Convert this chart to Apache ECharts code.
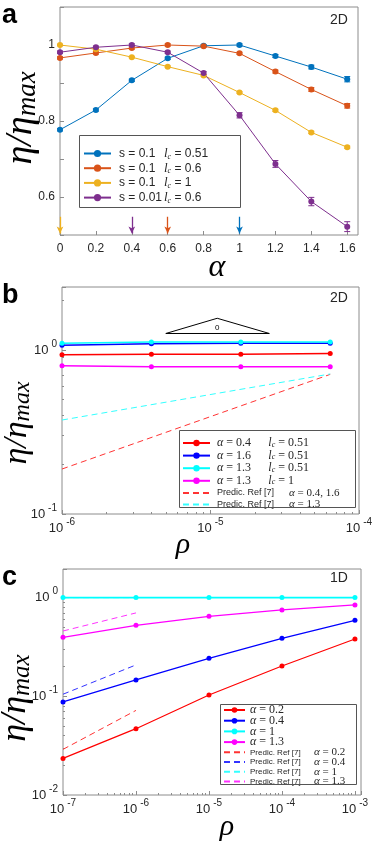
<!DOCTYPE html>
<html>
<head>
<meta charset="utf-8">
<script src="https://cdn.jsdelivr.net/npm/echarts@6/dist/echarts.min.js"></script>
<style>
  html, body { margin: 0; padding: 0; background: #fff; }
  #main { width: 381px; height: 868px; }
</style>
</head>
<body>
<div id="main"></div>
<script>
// ---- panel a: eta/eta_max vs alpha (2D) ----
const alphaA = [0, 0.2, 0.4, 0.6, 0.8, 1.0, 1.2, 1.4, 1.6];
const etaBlueA = [0.777, 0.829, 0.907, 0.965, 0.998, 1.0, 0.971, 0.942, 0.910];
const etaOrangeA = [0.966, 0.979, 0.992, 1.0, 0.997, 0.978, 0.930, 0.883, 0.840];
const etaYellowA = [1.0, 0.989, 0.968, 0.943, 0.920, 0.875, 0.828, 0.770, 0.731];
const etaPurpleA = [0.981, 0.994, 1.0, 0.981, 0.926, 0.815, 0.687, 0.588, 0.522];
const errBlueA = [0.003, 0.003, 0.003, 0.003, 0.003, 0.003, 0.004, 0.005, 0.007];
const errOrangeA = [0.003, 0.003, 0.003, 0.003, 0.003, 0.003, 0.004, 0.005, 0.006];
const errYellowA = [0.002, 0.002, 0.002, 0.002, 0.002, 0.002, 0.003, 0.003, 0.003];
const errPurpleA = [0.003, 0.003, 0.003, 0.003, 0.004, 0.007, 0.009, 0.011, 0.013];
const bestAlphaA = [1.0, 0.6, 0, 0.4]; // arrows: blue, orange, yellow, purple
const labelsA = [['s = 0.1', '0.51'], ['s = 0.1', '0.6'], ['s = 0.1', '1'], ['s = 0.01', '0.6']];

// ---- panel b: eta/eta_max vs rho (2D) ----
const rhoB = [1e-6, 4e-6, 1.6e-5, 6.4e-5];
const etaRedB = [0.935, 0.94, 0.94, 0.95];
const etaBlueB = [1.07, 1.09, 1.10, 1.10];
const etaCyanB = [1.10, 1.12, 1.12, 1.12];
const etaMagentaB = [0.80, 0.79, 0.79, 0.79];
const predRhoB = [1e-6, 6.4e-5];
const predRedB = [0.188, 0.71];
const predCyanB = [0.374, 0.714];
const triRhoB = [5e-6, 1.11e-5, 2.49e-5, 5e-6];
const triEtaB = [1.26, 1.56, 1.26, 1.26];

// ---- panel c: eta/eta_max vs rho (1D) ----
const rhoC = [1e-7, 1e-6, 1e-5, 1e-4, 1e-3];
const etaRedC = [0.0235, 0.047, 0.103, 0.203, 0.381];
const etaBlueC = [0.0877, 0.1465, 0.2425, 0.387, 0.589];
const etaCyanC = [1, 1, 1, 1, 1];
const etaMagentaC = [0.396, 0.524, 0.646, 0.750, 0.843];
const predRhoC = [1e-7, 1e-6];
const predRedC = [0.029, 0.072];
const predBlueC = [0.105, 0.208];
const predCyanC = [1.0, 1.0];
const predMagentaC = [0.459, 0.70];

const SANS = 'Liberation Sans';
const SERIF = 'Liberation Serif';
const FRAME = '#8c8c8c';
const TXT = '#262626';
const M_BLUE = '#0072BD', M_ORANGE = '#D95319', M_YELLOW = '#EDB120', M_PURPLE = '#7E2F8E';

const pairs = (xs, ys) => xs.map((x, i) => [x, ys[i]]);

const chart = echarts.init(document.getElementById('main'));

function expLabel(v) {
  const e = Math.round(Math.log10(v));
  if (Math.abs(Math.log10(v) - e) > 0.01) return '';
  return '{b|10}{s|' + e + '}';
}
const expRich = {
  b: { fontFamily: SANS, fontSize: 13, color: TXT, lineHeight: 22, verticalAlign: 'middle' },
  s: { fontFamily: SANS, fontSize: 10, color: TXT, lineHeight: 10, verticalAlign: 'top', padding: [0, 0, 0, 3] }
};
const tickIn = { show: true, inside: true, length: 4, lineStyle: { color: FRAME, width: 1 } };
const minorIn = { show: true, length: 2, splitNumber: 9, lineStyle: { color: FRAME, width: 1 } };

function lineA(name, ys, color, arrowX) {
  return {
    name, type: 'line', xAxisIndex: 0, yAxisIndex: 0,
    data: pairs(alphaA, ys), symbol: 'circle', symbolSize: 6,
    itemStyle: { color }, lineStyle: { color, width: 1 }, z: 3,
    markLine: {
      silent: true, symbol: ['none', 'arrow'], symbolSize: [5, 7],
      lineStyle: { color, width: 1.3, type: 'solid' }, label: { show: false },
      data: [[{ coord: [arrowX, 0.548] }, { coord: [arrowX, 0.504] }]]
    }
  };
}
function errA(ys, errs, color) {
  return {
    type: 'custom', xAxisIndex: 0, yAxisIndex: 0, silent: true, z: 2,
    data: alphaA.map((x, i) => [x, ys[i] - errs[i], ys[i] + errs[i]]),
    renderItem: (params, api) => {
      const lo = api.coord([api.value(0), api.value(1)]);
      const hi = api.coord([api.value(0), api.value(2)]);
      const w = 3;
      return {
        type: 'group', children: [
          { type: 'line', shape: { x1: lo[0], y1: lo[1], x2: hi[0], y2: hi[1] }, style: { stroke: color, lineWidth: 1 } },
          { type: 'line', shape: { x1: lo[0] - w, y1: lo[1], x2: lo[0] + w, y2: lo[1] }, style: { stroke: color, lineWidth: 1 } },
          { type: 'line', shape: { x1: hi[0] - w, y1: hi[1], x2: hi[0] + w, y2: hi[1] }, style: { stroke: color, lineWidth: 1 } }
        ]
      };
    }
  };
}
function solid(name, idx, xs, ys, color, width) {
  return {
    name, type: 'line', xAxisIndex: idx, yAxisIndex: idx, data: pairs(xs, ys),
    symbol: 'circle', symbolSize: 5, itemStyle: { color }, lineStyle: { color, width }, z: 3
  };
}
function dashed(name, idx, xs, ys, color) {
  return {
    name, type: 'line', xAxisIndex: idx, yAxisIndex: idx, data: pairs(xs, ys),
    symbol: 'none', itemStyle: { color }, lineStyle: { color, width: 1, type: [6, 4] }, z: 2
  };
}
// legend entry for a dashed series: hide the marker the line icon would add
const noMark = name => ({ name, itemStyle: { color: 'rgba(0,0,0,0)', borderWidth: 0 } });

// rotated y axis title
function etaTitle(x, y, big, small) {
  return {
    type: 'text', x, y, rotation: Math.PI / 2,
    style: {
      text: '{e|η/η}{m|max}', align: 'center', verticalAlign: 'middle',
      rich: {
        e: { fontFamily: SERIF, fontStyle: 'italic', fontSize: big, fill: '#000', lineHeight: big + 2 },
        m: { fontFamily: SERIF, fontStyle: 'italic', fontSize: small, fill: '#000', lineHeight: small + 3, verticalAlign: 'bottom' }
      }
    }
  };
}

const namesA = ['s = 0.1, lc = 0.51', 's = 0.1, lc = 0.6', 's = 0.1, lc = 1', 's = 0.01, lc = 0.6'];
const legendTextA = {};
namesA.forEach((n, i) => { legendTextA[n] = '{g|}{s|' + labelsA[i][0] + '}{l|l}{c|c}{e| = ' + labelsA[i][1] + '}'; });

const legendTextB = {
  b1: '{a|α}{n| = 0.4}{l|l}{c|c}{n| = 0.51}',
  b2: '{a|α}{n| = 1.6}{l|l}{c|c}{n| = 0.51}',
  b3: '{a|α}{n| = 1.3}{l|l}{c|c}{n| = 0.51}',
  b4: '{a|α}{n| = 1.3}{l|l}{c|c}{n| = 1}',
  b5: '{p|Predic. Ref [7]}{q|α}{r| = 0.4, 1.6}',
  b6: '{p|Predic. Ref [7]}{q|α}{r| = 1.3}'
};
const legendTextC = {
  c1: '{a|α}{n| = 0.2}', c2: '{a|α}{n| = 0.4}', c3: '{a|α}{n| = 1}', c4: '{a|α}{n| = 1.3}',
  c5: '{p|Predic. Ref [7]}{q|α}{r| = 0.2}', c6: '{p|Predic. Ref [7]}{q|α}{r| = 0.4}',
  c7: '{p|Predic. Ref [7]}{q|α}{r| = 1}', c8: '{p|Predic. Ref [7]}{q|α}{r| = 1.3}'
};

const option = {
  backgroundColor: '#fff',
  animation: false,
  grid: [
    { left: 60, top: 7, width: 298, height: 228, show: true, borderColor: FRAME, borderWidth: 1 },
    { left: 62, top: 287, width: 297, height: 227, show: true, borderColor: FRAME, borderWidth: 1 },
    { left: 63, top: 569, width: 298, height: 226, show: true, borderColor: FRAME, borderWidth: 1 }
  ],
  xAxis: [
    {
      gridIndex: 0, type: 'value', min: 0, max: 1.66, interval: 0.2,
      axisLine: { show: false }, axisTick: tickIn, splitLine: { show: false },
      axisLabel: {
        showMaxLabel: false, margin: 8, fontFamily: SANS, fontSize: 12, color: TXT,
        formatter: v => (v > 1.61 ? '' : String(+v.toFixed(1)))
      }
    },
    {
      gridIndex: 1, type: 'log', logBase: 10, min: 1e-6, max: 1e-4,
      axisLine: { show: false }, axisTick: tickIn, minorTick: minorIn, splitLine: { show: false },
      axisLabel: { margin: 3, formatter: expLabel, rich: expRich }
    },
    {
      gridIndex: 2, type: 'log', logBase: 10, min: 1e-7, max: 1.21e-3,
      axisLine: { show: false }, axisTick: tickIn, minorTick: minorIn, splitLine: { show: false },
      axisLabel: { margin: 3, showMaxLabel: false, formatter: expLabel, rich: expRich }
    }
  ],
  yAxis: [
    {
      gridIndex: 0, type: 'value', min: 0.5, max: 1.1, interval: 0.1,
      axisLine: { show: false }, axisTick: tickIn, splitLine: { show: false },
      axisLabel: {
        margin: 5, fontFamily: SANS, fontSize: 12, color: TXT,
        formatter: v => { const t = Math.round(v * 10); return (t === 6 || t === 8 || t === 10) ? String(+v.toFixed(1)) : ''; }
      }
    },
    {
      gridIndex: 1, type: 'log', logBase: 10, min: 0.1, max: 2.42,
      axisLine: { show: false }, axisTick: tickIn, minorTick: minorIn, splitLine: { show: false },
      axisLabel: { margin: 5, showMaxLabel: false, formatter: expLabel, rich: expRich }
    },
    {
      gridIndex: 2, type: 'log', logBase: 10, min: 0.01, max: 1.95,
      axisLine: { show: false }, axisTick: tickIn, minorTick: minorIn, splitLine: { show: false },
      axisLabel: { margin: 5, showMaxLabel: false, formatter: expLabel, rich: expRich }
    }
  ],
  legend: [
    {
      data: namesA, orient: 'vertical', left: 83, top: 147, itemWidth: 27, itemHeight: 9, itemGap: 1.2,
      padding: 0, selectedMode: false,
      formatter: n => legendTextA[n],
      textStyle: {
        rich: {
          g: { width: 3, lineHeight: 14 },
          s: { fontFamily: SANS, fontSize: 12, color: TXT, width: 45, lineHeight: 14 },
          l: { fontFamily: SERIF, fontStyle: 'italic', fontSize: 13, color: TXT, lineHeight: 14 },
          c: { fontFamily: SERIF, fontStyle: 'italic', fontSize: 8, color: TXT, lineHeight: 8, verticalAlign: 'bottom' },
          e: { fontFamily: SANS, fontSize: 12, color: TXT, lineHeight: 14 }
        }
      }
    },
    {
      data: ['b1', 'b2', 'b3', 'b4', noMark('b5'), noMark('b6')],
      orient: 'vertical', left: 182, top: 437, itemWidth: 27, itemHeight: 8, itemGap: 0.6,
      padding: 0, selectedMode: false,
      formatter: n => legendTextB[n],
      textStyle: {
        rich: {
          a: { fontFamily: SERIF, fontStyle: 'italic', fontSize: 12, color: TXT, lineHeight: 11, padding: [0, 0, 0, 2] },
          n: { fontFamily: SERIF, fontSize: 12, color: TXT, lineHeight: 11, width: 45 },
          l: { fontFamily: SERIF, fontStyle: 'italic', fontSize: 12, color: TXT, lineHeight: 11 },
          c: { fontFamily: SERIF, fontStyle: 'italic', fontSize: 8, color: TXT, lineHeight: 7, verticalAlign: 'bottom' },
          p: { fontFamily: SANS, fontSize: 9, color: TXT, lineHeight: 11, width: 72, padding: [0, 0, 0, 2] },
          q: { fontFamily: SERIF, fontStyle: 'italic', fontSize: 11, color: TXT, lineHeight: 11 },
          r: { fontFamily: SERIF, fontSize: 11, color: TXT, lineHeight: 11 }
        }
      }
    },
    {
      data: ['c1', 'c2', 'c3', 'c4', noMark('c5'), noMark('c6'), noMark('c7'), noMark('c8')],
      orient: 'vertical', left: 223, top: 704, itemWidth: 21, itemHeight: 7, itemGap: -1.3,
      padding: 0, selectedMode: false,
      formatter: n => legendTextC[n],
      textStyle: {
        rich: {
          a: { fontFamily: SERIF, fontStyle: 'italic', fontSize: 12, color: TXT, lineHeight: 10 },
          n: { fontFamily: SERIF, fontSize: 12, color: TXT, lineHeight: 10 },
          p: { fontFamily: SANS, fontSize: 8, color: TXT, lineHeight: 10, width: 64 },
          q: { fontFamily: SERIF, fontStyle: 'italic', fontSize: 11, color: TXT, lineHeight: 10 },
          r: { fontFamily: SERIF, fontSize: 11, color: TXT, lineHeight: 10 }
        }
      }
    }
  ],
  graphic: [
    { type: 'rect', shape: { x: 79.5, y: 135.5, width: 161, height: 72 }, style: { fill: 'none', stroke: '#555', lineWidth: 1 }, z: 10 },
    { type: 'rect', shape: { x: 179.5, y: 430.5, width: 176, height: 77 }, style: { fill: 'none', stroke: '#555', lineWidth: 1 }, z: 10 },
    { type: 'rect', shape: { x: 220.5, y: 704.5, width: 136, height: 80 }, style: { fill: 'none', stroke: '#555', lineWidth: 1 }, z: 10 },
    { type: 'text', x: 2, y: 16, style: { text: 'a', font: 'bold 27px "Liberation Sans"', fill: '#000', verticalAlign: 'middle' } },
    { type: 'text', x: 2, y: 296, style: { text: 'b', font: 'bold 27px "Liberation Sans"', fill: '#000', verticalAlign: 'middle' } },
    { type: 'text', x: 2, y: 578, style: { text: 'c', font: 'bold 27px "Liberation Sans"', fill: '#000', verticalAlign: 'middle' } },
    { type: 'text', x: 339, y: 20, style: { text: '2D', font: '14px "Liberation Sans"', fill: TXT, align: 'center', verticalAlign: 'middle' } },
    { type: 'text', x: 339, y: 298, style: { text: '2D', font: '14px "Liberation Sans"', fill: TXT, align: 'center', verticalAlign: 'middle' } },
    { type: 'text', x: 339, y: 578, style: { text: '1D', font: '14px "Liberation Sans"', fill: TXT, align: 'center', verticalAlign: 'middle' } },
    { type: 'text', x: 217, y: 268, style: { text: 'α', font: 'italic 32px "Liberation Serif"', fill: '#000', align: 'center', verticalAlign: 'middle' } },
    { type: 'text', x: 183, y: 545, style: { text: 'ρ', font: 'italic 30px "Liberation Serif"', fill: '#000', align: 'center', verticalAlign: 'middle' } },
    { type: 'text', x: 227, y: 827, style: { text: 'ρ', font: 'italic 30px "Liberation Serif"', fill: '#000', align: 'center', verticalAlign: 'middle' } },
    etaTitle(21, 118, 38, 27),
    etaTitle(17, 423, 34, 24),
    etaTitle(16, 698, 36, 25)
  ],
  series: [
    errA(etaBlueA, errBlueA, M_BLUE),
    errA(etaOrangeA, errOrangeA, M_ORANGE),
    errA(etaYellowA, errYellowA, M_YELLOW),
    errA(etaPurpleA, errPurpleA, M_PURPLE),
    lineA(namesA[0], etaBlueA, M_BLUE, bestAlphaA[0]),
    lineA(namesA[1], etaOrangeA, M_ORANGE, bestAlphaA[1]),
    lineA(namesA[2], etaYellowA, M_YELLOW, bestAlphaA[2]),
    lineA(namesA[3], etaPurpleA, M_PURPLE, bestAlphaA[3]),

    solid('b1', 1, rhoB, etaRedB, '#ff0000', 1.5),
    solid('b2', 1, rhoB, etaBlueB, '#0000ff', 1.5),
    solid('b3', 1, rhoB, etaCyanB, '#00ffff', 1.5),
    solid('b4', 1, rhoB, etaMagentaB, '#ff00ff', 1.5),
    dashed('b5', 1, predRhoB, predRedB, '#ff3333'),
    dashed('b6', 1, predRhoB, predCyanB, '#33ffff'),
    {
      type: 'line', xAxisIndex: 1, yAxisIndex: 1, data: pairs(triRhoB, triEtaB), symbol: 'none',
      lineStyle: { color: '#000', width: 1 }, silent: true, z: 4,
      markPoint: {
        symbol: 'circle', symbolSize: 0, silent: true,
        label: { show: true, formatter: '0', fontFamily: SANS, fontSize: 8, color: '#000' },
        data: [{ coord: [triRhoB[1], 1.36] }]
      }
    },

    solid('c1', 2, rhoC, etaRedC, '#ff0000', 1.2),
    solid('c2', 2, rhoC, etaBlueC, '#0000ff', 1.2),
    solid('c3', 2, rhoC, etaCyanC, '#00ffff', 1.8),
    solid('c4', 2, rhoC, etaMagentaC, '#ff00ff', 1.2),
    dashed('c5', 2, predRhoC, predRedC, '#ff3333'),
    dashed('c6', 2, predRhoC, predBlueC, '#3333ff'),
    dashed('c7', 2, predRhoC, predCyanC, '#33ffff'),
    dashed('c8', 2, predRhoC, predMagentaC, '#ff33ff')
  ]
};

chart.setOption(option);
</script>
</body>
</html>
